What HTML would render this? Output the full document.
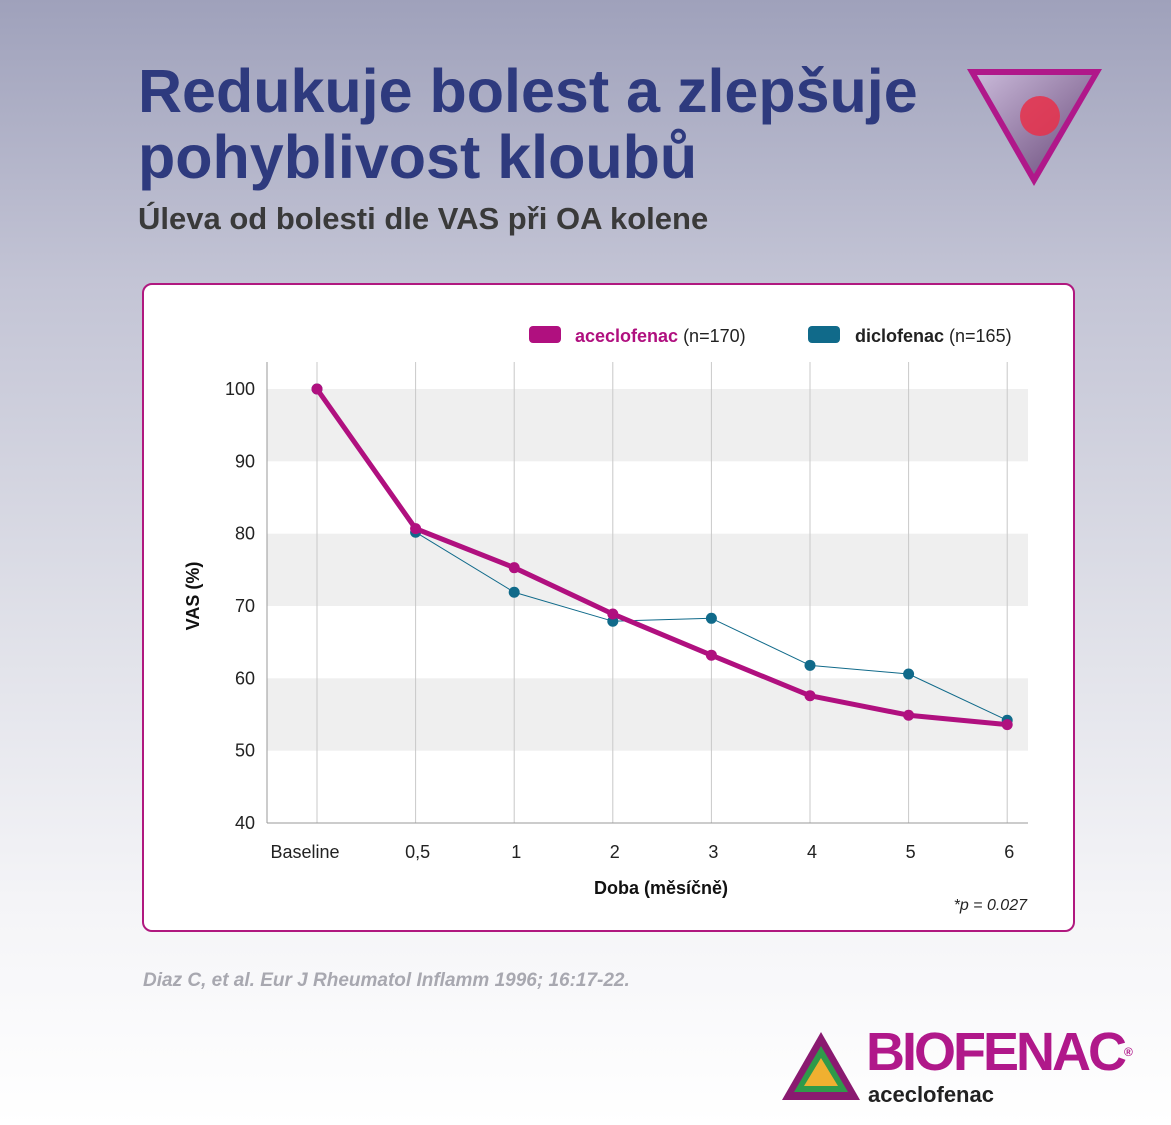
<!DOCTYPE html>
<html><head><meta charset="utf-8"><style>
body{margin:0;width:1171px;height:1125px;overflow:hidden;font-family:"Liberation Sans",sans-serif;
background:linear-gradient(180deg,#9fa1bb 0%,#c3c4d5 25%,#dfe0e8 55%,#f4f4f7 80%,#ffffff 100%);position:relative}
.t{position:absolute;left:138px;color:#2e3a7e;font-weight:bold;font-size:61px;line-height:66px;letter-spacing:0px}
</style></head><body>
<div class="t" style="top:58px">Redukuje bolest a zlepšuje<br>pohyblivost kloubů</div>
<div style="position:absolute;left:138px;top:201px;font-size:31px;font-weight:bold;color:#3a3a3a">Úleva od bolesti dle VAS při OA kolene</div>
<svg style="position:absolute;left:962px;top:66px" width="145" height="125">
<defs><linearGradient id="kg" x1="0" y1="0" x2="1" y2="1"><stop offset="0" stop-color="#c8b8d8"/><stop offset="1" stop-color="#6a4a7a"/></linearGradient></defs>
<polygon points="5,3 140,3 72,120" fill="#b0188a"/><polygon points="15,9 130,9 72,108" fill="url(#kg)"/>
<circle cx="78" cy="50" r="20" fill="#e8304a" opacity="0.85"/></svg>
<div style="position:absolute;left:142px;top:283px;width:929px;height:645px;background:#fff;border:2px solid #b0187f;border-radius:10px"></div>
<svg id="c" style="position:absolute;left:0;top:0" width="1171" height="1125"></svg>
<div style="position:absolute;left:143px;top:970px;font-size:19px;font-style:italic;font-weight:bold;color:#a8a8b0">Diaz C, et al. Eur J Rheumatol Inflamm 1996; 16:17-22.</div>
<svg style="position:absolute;left:780px;top:1030px" width="82" height="72">
<polygon points="41,2 80,70 2,70" fill="#8a1a70"/><polygon points="41,16 68,62 14,62" fill="#2f9a4a"/><polygon points="41,28 58,56 24,56" fill="#f0b030"/></svg>
<div style="position:absolute;left:866px;top:1022px;font-size:54px;font-weight:bold;color:#b0188a;letter-spacing:-3px;line-height:60px">BIOFENAC<span style="font-size:12px;vertical-align:top;letter-spacing:0">®</span></div>
<div style="position:absolute;left:868px;top:1082px;font-size:22px;font-weight:bold;color:#222">aceclofenac</div>
<script>
const categories=["Baseline","0,5","1","2","3","4","5","6"];
const aceclofenac=[100,80.7,75.3,68.9,63.2,57.6,54.9,53.6];
const diclofenac=[100,80.2,71.9,67.9,68.3,61.8,60.6,54.2];
const yTicks=[40,50,60,70,80,90,100];
const svg=document.getElementById('c');const NS="http://www.w3.org/2000/svg";
function el(t,a,p){const e=document.createElementNS(NS,t);for(const k in a)e.setAttribute(k,a[k]);(p||svg).appendChild(e);return e;}
const x=i=>317+i*98.6;const y=v=>823-(v-40)*7.233;
for(let v=90;v>=50;v-=20){const r=el('rect',{x:267,y:y(v+10),width:761,height:y(v)-y(v+10),fill:'#efefef'});

}
categories.forEach((c,i)=>{const l=el('line',{x1:x(i),x2:x(i),y1:362,y2:823,stroke:'#c8c8c8','stroke-width':1});


const t=el('text',{x:i==0?305:x(i)+2,y:858,'text-anchor':'middle','font-size':18,fill:'#222'});t.textContent=c;

});
el('line',{x1:267,x2:267,y1:362,y2:823,stroke:'#999'});el('line',{x1:267,x2:1028,y1:823,y2:823,stroke:'#999'});
yTicks.forEach(v=>{const t=el('text',{x:255,y:y(v)+6,'text-anchor':'end','font-size':18,fill:'#222'});t.textContent=v;

});
let t=el('text',{x:0,y:0,transform:'translate(199,596) rotate(-90)','text-anchor':'middle','font-size':18,'font-weight':'bold',fill:'#111'});t.textContent='VAS (%)';


t=el('text',{x:661,y:894,'text-anchor':'middle','font-size':18,'font-weight':'bold',fill:'#111'});t.textContent='Doba (měsíčně)';


t=el('text',{x:1027,y:910,'text-anchor':'end','font-size':16,'font-style':'italic',fill:'#222'});t.textContent='*p = 0.027';


function series(d,col,w,r,name){const p=el('polyline',{points:d.map((v,i)=>x(i)+','+y(v)).join(' '),fill:'none',stroke:col,'stroke-width':w,'stroke-linejoin':'round'});


d.forEach((v,i)=>{const c=el('circle',{cx:x(i),cy:y(v),r:r,fill:col});

});}
series(diclofenac,'#106a8a',1,5.5,'diclofenac');
series(aceclofenac,'#b0107f',5,5.5,'aceclofenac');
el('rect',{x:529,y:326,width:32,height:17,rx:4,fill:'#b0107f'});
t=el('text',{x:575,y:342,'font-size':18,fill:'#222'});t.innerHTML='<tspan font-weight="bold" fill="#b0107f">aceclofenac</tspan> (n=170)';


el('rect',{x:808,y:326,width:32,height:17,rx:4,fill:'#106a8a'});
t=el('text',{x:855,y:342,'font-size':18,fill:'#222'});t.innerHTML='<tspan font-weight="bold">diclofenac</tspan> (n=165)';


</script>
</body></html>
